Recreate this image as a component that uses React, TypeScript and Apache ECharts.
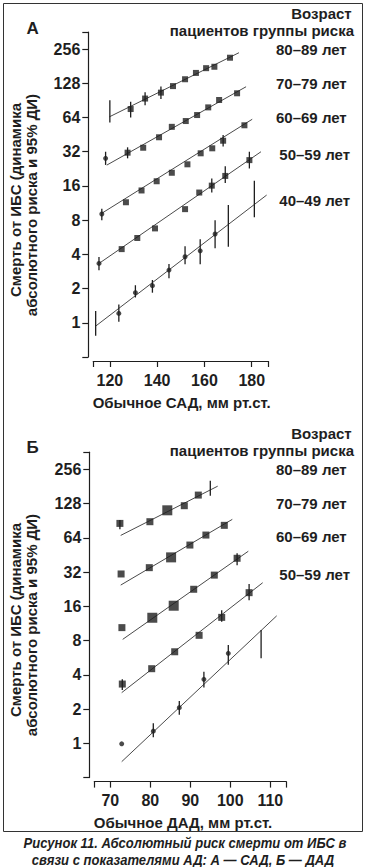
import React, { useEffect, useRef } from "react";
import * as echarts from "echarts";

// ---------------- DATA ----------------
// point: [blood pressure, risk (null = CI only), CI low, CI high]
type Pt = [number, number | null, number | null, number | null];
// fitted line: [x0, y0, x1, y1]
type Fit = [number, number, number, number];

const ageLabels = ["80–89 лет", "70–79 лет", "60–69 лет", "50–59 лет", "40–49 лет"];
const riskTicks = [1, 2, 4, 8, 16, 32, 64, 128, 256];
const sadTicks = [120, 140, 160, 180];
const dadTicks = [70, 80, 90, 100, 110];

// Panel A — systolic BP
const sad80: Pt[] = [
  [120, null, 58, 91],
  [128.8, 76, 64, 88],
  [134.9, 94, 82, 107],
  [141.6, 106, 93, 120],
  [146.7, 121, null, null],
  [151.8, 139, null, null],
  [156.4, 158, null, null],
  [160.7, 174, null, null],
  [164.2, 179, null, null],
  [170.8, 215, null, null],
];
const sad70: Pt[] = [
  [118.2, 28, 24.5, 32],
  [127.5, 31.4, 28, 35],
  [134.1, 34.7, null, null],
  [140.8, 42.9, null, null],
  [146.2, 53, null, null],
  [152.1, 59.6, null, null],
  [156.9, 67.3, null, null],
  [161.6, 78.6, null, null],
  [166.2, 91.3, null, null],
  [173.8, 104.6, null, null],
];
const sad60: Pt[] = [
  [116.6, 9.06, 8, 10.1],
  [126.8, 11.5, null, null],
  [133.4, 14.6, null, null],
  [139.8, 17.6, null, null],
  [146.2, 20.9, null, null],
  [152.8, 24.8, null, null],
  [158.4, 31, null, null],
  [163.3, 34.3, null, null],
  [167.9, 40, 35.5, 45],
  [176.9, 54.7, null, null],
];
const sad50: Pt[] = [
  [115.4, 3.33, 2.9, 3.8],
  [125, 4.45, null, null],
  [131.6, 5.57, null, null],
  [139.1, 6.77, null, null],
  [151.8, 10.0, null, null],
  [157.8, 14.0, null, null],
  [163.1, 16.1, 14.0, 18.6],
  [168.8, 19.6, 17.0, 23.9],
  [179, 27, 22.8, 32],
];
const sad40: Pt[] = [
  [114, null, 0.77, 1.27],
  [123.8, 1.21, 1.02, 1.45],
  [130.8, 1.84, 1.67, 2.14],
  [138, 2.12, 1.84, 2.38],
  [145, 2.91, 2.46, 3.29],
  [151.8, 3.81, 3.27, 4.72],
  [158.2, 4.3, 3.27, 5.43],
  [164.5, 6.04, 4.52, 8],
  [170.1, null, 4.66, 10.86],
  [181.1, null, 8.47, 17.8],
];
const sadFits: Fit[] = [
  [119.8, 64.9, 174.6, 238],
  [118.7, 24.4, 177.6, 119.4],
  [116.6, 9.2, 180.2, 61.8],
  [115.8, 3.37, 183.9, 32],
  [114, 0.935, 186.3, 13.3],
];

// Panel B — diastolic BP
const dad80: Pt[] = [
  [72.4, 85.7, 76, 92],
  [79.9, 88.7, null, null],
  [84.25, 111.7, null, null],
  [88.5, 122.6, null, null],
  [92, 152, null, null],
  [95, null, 150, 203],
];
const dad70: Pt[] = [
  [72.7, 30.8, null, null],
  [79.75, 35, null, null],
  [85.2, 43.1, null, null],
  [89.9, 55.3, null, null],
  [93.9, 67.7, null, null],
  [98.5, 82.4, null, null],
];
const dad60: Pt[] = [
  [72.9, 10.4, null, null],
  [80.5, 12.7, null, null],
  [85.85, 16.2, null, null],
  [90.85, 22.6, null, null],
  [96, 30.1, null, null],
  [101.7, 42.3, 36.8, 46.9],
];
const dad50: Pt[] = [
  [73, 3.32, 2.95, 3.66],
  [80.35, 4.53, null, null],
  [86.1, 6.38, null, null],
  [92.2, 8.9, null, null],
  [97.85, 12.8, 11.7, 14.8],
  [104.7, 21.1, 18.1, 25.1],
];
const dad40: Pt[] = [
  [72.85, 0.99, null, null],
  [80.75, 1.28, 1.13, 1.5],
  [87.25, 2.06, 1.78, 2.36],
  [93.4, 3.65, 3.1, 4.26],
  [99.5, 6.18, 4.9, 7.3],
  [107.7, null, 5.6, 9.9],
];
const dadFits: Fit[] = [
  [72.6, 67.2, 96.85, 182],
  [72.6, 24.6, 100.5, 93],
  [73.1, 8.2, 104.5, 48.8],
  [72.85, 2.79, 108.1, 25.8],
  [72.85, 0.69, 111.6, 13.2],
];

// ---------------- STYLE ----------------
const FONT = '"Liberation Sans", Arial, Helvetica, sans-serif';
const INK = "#1e1e1e";
// marker shapes: indices drawn as circles (null = all circles)
const circlesA: (number[] | null)[] = [[], [0], [0], [0], null];
const circlesB: (number[] | null)[] = [[], [], [], [], null];
// larger squares in panel B
const bigB: number[][] = [[2], [2], [1, 2], [], []];

function buildSeries(
  groups: Pt[][],
  fits: Fit[],
  circles: (number[] | null)[],
  big: number[][],
  ai: number,
  sq: number,
  bigSq: number,
  circ: number
) {
  const out: any[] = [];
  groups.forEach((g, gi) => {
    const f = fits[gi];
    out.push({
      type: "line",
      xAxisIndex: ai,
      yAxisIndex: ai,
      data: [
        [f[0], f[1]],
        [f[2], f[3]],
      ],
      symbol: "none",
      silent: true,
      lineStyle: { color: "#4a4a4a", width: 1 },
      z: 2,
    });
    const errs = g.filter((p) => p[2] != null).map((p) => [p[0], p[2], p[3]]);
    if (errs.length) {
      out.push({
        type: "custom",
        xAxisIndex: ai,
        yAxisIndex: ai,
        data: errs,
        encode: { x: 0, y: [1, 2] },
        silent: true,
        z: 3,
        renderItem: (_p: any, api: any) => {
          const a = api.coord([api.value(0), api.value(1)]);
          const b = api.coord([api.value(0), api.value(2)]);
          return {
            type: "line",
            shape: { x1: a[0], y1: a[1], x2: b[0], y2: b[1] },
            style: { stroke: INK, lineWidth: 1.3 },
          };
        },
      });
    }
    const isCirc = (i: number) => circles[gi] === null || (circles[gi] as number[]).includes(i);
    const sqData: any[] = [];
    const ciData: any[] = [];
    g.forEach((p, i) => {
      if (p[1] == null) return;
      if (isCirc(i)) ciData.push({ value: [p[0], p[1]] });
      else sqData.push({ value: [p[0], p[1]], symbolSize: big[gi].includes(i) ? bigSq : sq });
    });
    if (sqData.length)
      out.push({
        type: "scatter",
        xAxisIndex: ai,
        yAxisIndex: ai,
        symbol: "rect",
        symbolSize: sq,
        data: sqData,
        itemStyle: { color: INK },
        silent: true,
        z: 4,
      });
    if (ciData.length)
      out.push({
        type: "scatter",
        xAxisIndex: ai,
        yAxisIndex: ai,
        symbol: "circle",
        symbolSize: circ,
        data: ciData,
        itemStyle: { color: INK },
        silent: true,
        z: 4,
      });
  });
  return out;
}

const axisLine = { show: true, lineStyle: { color: INK, width: 1.2 } };
const axisTick = { show: true, length: 6, lineStyle: { color: INK, width: 1.2 } };
const labelStyle = { color: INK, fontSize: 16, fontWeight: "bold" as const, fontFamily: FONT };

function xAxisFor(gi: number, min: number, max: number, step: number, ticks: number[], split: number) {
  return {
    type: "value",
    gridIndex: gi,
    min,
    max,
    splitNumber: split,
    minInterval: step,
    maxInterval: step,
    offset: 4,
    axisLine,
    axisTick,
    splitLine: { show: false },
    axisLabel: {
      ...labelStyle,
      margin: 11,
      formatter: (v: number) => (ticks.includes(Math.round(v * 100) / 100) ? String(v) : ""),
    },
  };
}

function yAxisFor(gi: number) {
  return {
    type: "log",
    logBase: 2,
    gridIndex: gi,
    min: 0.5,
    max: Math.pow(2, 8.5),
    offset: 5,
    axisLine,
    axisTick,
    splitLine: { show: false },
    axisLabel: {
      ...labelStyle,
      margin: 8,
      formatter: (v: number) => {
        const r = Math.round(v * 1000) / 1000;
        return riskTicks.includes(r) ? String(r) : "";
      },
    },
  };
}

function txt(text: string, x: number, y: number, align: string, font: string, extra: any = {}) {
  return {
    type: "text",
    x,
    y,
    silent: true,
    ...extra,
    style: { text, font, fill: INK, textAlign: align, textVerticalAlign: "middle" },
  };
}

export default function App() {
  const ref = useRef<HTMLDivElement>(null);
  useEffect(() => {
    if (!ref.current) return;
    const chart = echarts.init(ref.current, undefined, { renderer: "svg" });
    const bold15 = `bold 15px ${FONT}`;
    const cap = `italic bold 15px ${FONT}`;
    const labelsA = [49.3, 83.3, 117.3, 154.3, 200];
    const labelsAx = [276, 276, 276, 279.3, 279.3];
    const labelsB = [469.3, 503.3, 536.7, 574];
    const labelsBx = [276, 276, 276, 279.3];
    const graphic: any[] = [
      {
        type: "rect",
        silent: true,
        shape: { x: 3.5, y: 3.5, width: 359, height: 828 },
        style: { fill: "none", stroke: "#333", lineWidth: 1 },
      },
      txt("А", 26.5, 28.5, "left", `bold 17px ${FONT}`),
      txt("Б", 26.5, 447.7, "left", `bold 17px ${FONT}`),
      txt("Возраст", 351.7, 13.5, "right", bold15),
      txt("пациентов группы риска", 354, 30.7, "right", bold15),
      txt("Возраст", 351.7, 433.3, "right", bold15),
      txt("пациентов группы риска", 354, 450.7, "right", bold15),
      ...ageLabels.map((t, i) => txt(t, labelsAx[i], labelsA[i], "left", bold15)),
      ...ageLabels.slice(0, 4).map((t, i) => txt(t, labelsBx[i], labelsB[i], "left", bold15)),
      txt("Обычное САД, мм рт.ст.", 181.7, 402, "center", bold15),
      txt("Обычное ДАД, мм рт.ст.", 183, 822.5, "center", bold15),
      txt("Смерть от ИБС (динамика", 15, 200, "center", bold15, { rotation: Math.PI / 2 }),
      txt("абсолютного риска и 95% ДИ)", 31, 205, "center", bold15, { rotation: Math.PI / 2 }),
      txt("Смерть от ИБС (динамика", 15, 620, "center", bold15, { rotation: Math.PI / 2 }),
      txt("абсолютного риска и 95% ДИ)", 31, 625, "center", bold15, { rotation: Math.PI / 2 }),
      txt("Рисунок 11. Абсолютный риск смерти от ИБС в", 185, 842.7, "center", cap, { scaleX: 0.87 }),
      txt("связи с показателями АД: А — САД, Б — ДАД", 183, 859.5, "center", cap, { scaleX: 0.87 }),
    ];
    chart.setOption({
      animation: false,
      backgroundColor: "#ffffff",
      grid: [
        { left: 93.3, top: 32, width: 175, height: 325 },
        { left: 94.3, top: 452.2, width: 192, height: 325.4 },
      ],
      xAxis: [xAxisFor(0, 113, 187, 20, sadTicks, 4), xAxisFor(1, 66, 114, 10, dadTicks, 5)],
      yAxis: [yAxisFor(0), yAxisFor(1)],
      graphic,
      series: [
        ...buildSeries([sad80, sad70, sad60, sad50, sad40], sadFits, circlesA, [[], [], [], [], []], 0, 6, 6, 5),
        ...buildSeries([dad80, dad70, dad60, dad50, dad40], dadFits, circlesB, bigB, 1, 7, 10, 5),
      ],
    });
    return () => chart.dispose();
  }, []);
  return (
    <div
      ref={ref}
      style={{ position: "absolute", left: 0, top: 0, width: 366, height: 867, background: "#fff" }}
    />
  );
}
